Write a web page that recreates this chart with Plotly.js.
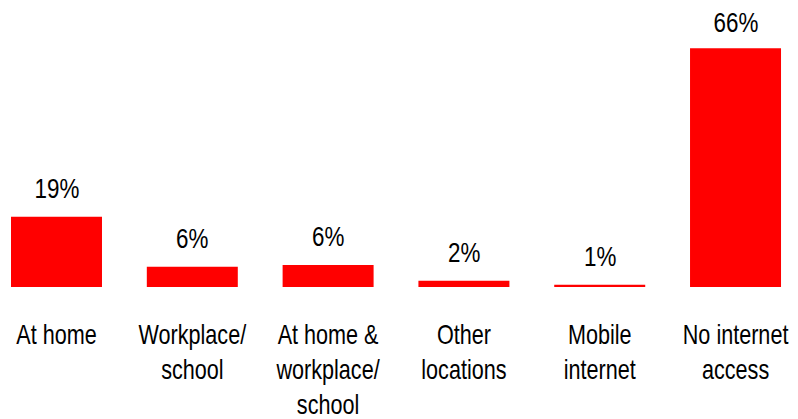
<!DOCTYPE html>
<html>
<head>
<meta charset="utf-8">
<script src="https://cdn.plot.ly/plotly-3.0.1.min.js"></script>
<style>html,body{margin:0;padding:0;background:#fff;}#chart{width:798px;height:419px;}</style>
</head>
<body>
<div id="chart"></div>
<script>
const categories = ["At home", "Workplace/<br>school", "At home &<br>workplace/<br>school", "Other<br>locations", "Mobile<br>internet", "No internet<br>access"];
const values = [19.4, 5.6, 6.1, 1.7, 0.6, 66];
const valueLabels = ["19%", "6%", "6%", "2%", "1%", "66%"];

const font = "'Liberation Sans', Arial, sans-serif";
const NARROW = 0.8; // emulate Arial Narrow

const trace = {
  type: "bar",
  x: categories,
  y: values,
  marker: {color: "#FF0000"},
  width: 0.67,
  hoverinfo: "none"
};

const annotations = categories.map((c, i) => ({
  x: c, y: values[i], xref: "x", yref: "y",
  text: valueLabels[i], showarrow: false,
  yanchor: "bottom", yshift: (i === categories.length - 1) ? 8 : 11,
  font: {family: font, size: 28, color: "#000"}
}));

const layout = {
  width: 798, height: 419,
  margin: {l: 0, r: 0, t: 0, b: 132},
  paper_bgcolor: "#fff", plot_bgcolor: "#fff",
  showlegend: false,
  xaxis: {
    range: [-0.416, 5.46], showgrid: false, zeroline: false, showline: false,
    ticks: "", ticklabelstandoff: 29,
    tickfont: {family: font, size: 27, color: "#000"}, fixedrange: true
  },
  yaxis: {range: [0, 79.3], visible: false, fixedrange: true},
  annotations: annotations
};

Plotly.newPlot("chart", [trace], layout, {displayModeBar: false, staticPlot: true}).then(gd => {
  gd.querySelectorAll('.xtick text, .annotation-text').forEach(t => {
    const bb = t.getBBox();
    const cx = bb.x + bb.width / 2;
    const tr = t.getAttribute('transform') || '';
    t.setAttribute('transform', tr + ' translate(' + cx + ',0) scale(' + NARROW + ',1) translate(' + (-cx) + ',0)');
  });
});
</script>
</body>
</html>
